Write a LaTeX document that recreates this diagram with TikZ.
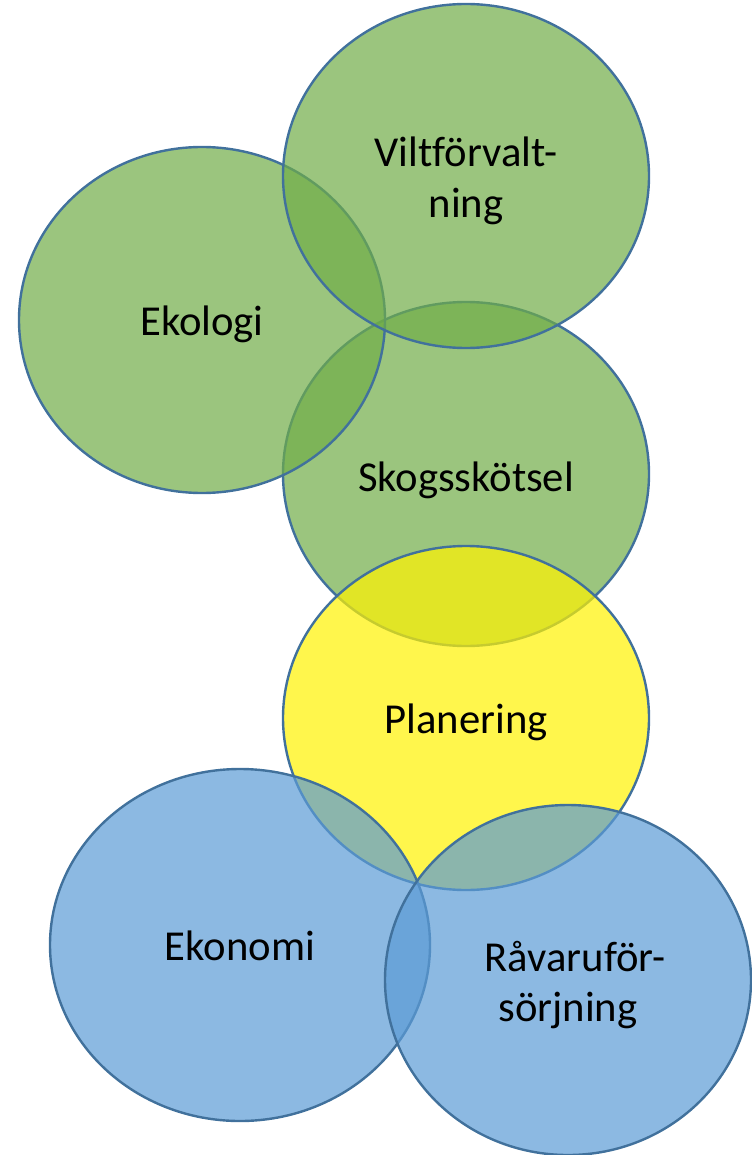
\documentclass[tikz,border=0pt]{standalone}
\usepackage{fontspec}
\setmainfont{Carlito}[Ligatures=NoCommon]
\usetikzlibrary{shapes.geometric}
\definecolor{leafgreen}{HTML}{70AD47}
\definecolor{skyblue}{HTML}{5B9BD5}
\definecolor{edgeblue}{HTML}{41719C}
\begin{document}
\begin{tikzpicture}[x=0.75pt, y=-0.75pt,
  blob/.style={ellipse, draw=edgeblue, line width=1.8pt, fill opacity=0.7,
    inner sep=0pt, minimum width=274.5pt, minimum height=258pt},
  word/.style={align=center, inner sep=0pt, font=\fontsize{32}{38}\selectfont}]
\useasboundingbox (0,0) rectangle (751,1155);
% the circles, back to front
\node[blob, fill=leafgreen] (skog) at (466,474) {};
\node[blob, fill=leafgreen, minimum height=259.5pt] (eko) at (202,320) {};
\node[blob, fill=leafgreen] (vilt) at (466,176) {};
\node[blob, fill=yellow] (plan) at (466,718) {};
\node[blob, fill=skyblue, minimum width=285pt, minimum height=264pt] (ekon) at (240,945) {};
\node[blob, fill=skyblue, minimum height=262.5pt] (ravara) at (568,980) {};
% the words
\node[word] (skog_t) at (466,480) {Skogsskötsel};
\node[word] (eko_t) at (202,324) {Ekologi};
\node[word] (vilt_t) at (466,181) {Viltförvalt-\\ning};
\node[word] (plan_t) at (466,722) {Planering};
\node[word] (ekon_t) at (240,946) {Ekonomi};
\node[word] (ravara_t) at (568,985) {\hspace*{10.5pt}Råvaruför-\\sörjning};
\end{tikzpicture}
\end{document}
